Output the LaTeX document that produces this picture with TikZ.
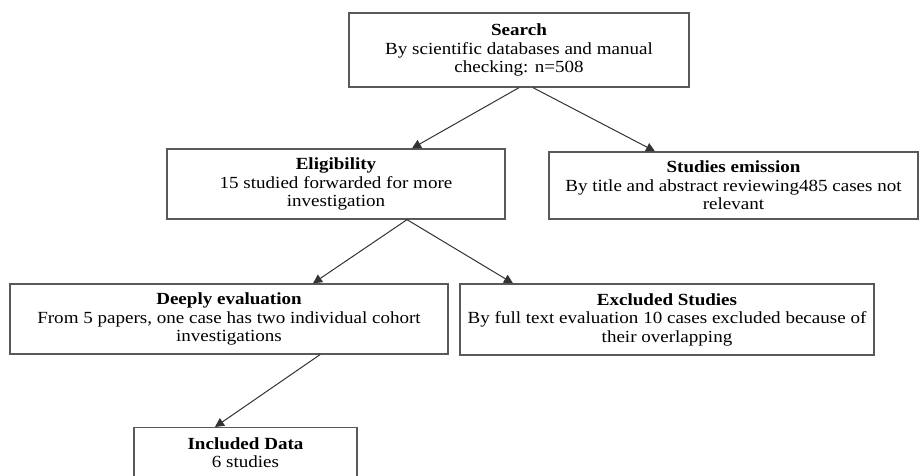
\documentclass[tikz,border=0pt]{standalone}
\usepackage{fontspec}
\setmainfont[FakeStretch=1.12]{Liberation Serif}
\usetikzlibrary{arrows.meta}

\begin{document}
\begin{tikzpicture}[x=1pt,y=-1pt,
    box/.style={shape=rectangle, draw=black!65, line width=1.3pt, fill=white, align=center, inner sep=0pt,
        font=\fontsize{17}{18.5}\selectfont},
    arr/.style={-{Triangle[length=9pt,width=9pt]}, draw=black!80, line width=1pt}]
    \useasboundingbox (0,0) rectangle (920,475);

    \node[box, minimum width=340pt, minimum height=74pt] (search) at (519,50)
        {\textbf{Search}\\By scientific databases and manual\\checking: n=508};
    \node[box, minimum width=338pt, minimum height=70pt] (elig) at (336,184)
        {\textbf{Eligibility}\\15 studied forwarded for more\\investigation};
    \node[box, minimum width=369pt, minimum height=67pt] (emis) at (733.5,185.5)
        {\textbf{Studies emission}\\By title and abstract reviewing485 cases not\\relevant};
    \node[box, minimum width=438pt, minimum height=70pt] (deep) at (229,319)
        {\textbf{Deeply evaluation}\\From 5 papers, one case has two individual cohort\\investigations};
    \node[box, minimum width=414pt, minimum height=71pt] (excl) at (667,319.5)
        {\textbf{Excluded Studies}\\By full text evaluation 10 cases excluded because of\\their overlapping};
    \node[box, minimum width=223pt, minimum height=98pt, anchor=north] (incl) at (245.5,427)
        {\textbf{Included Data}\\6 studies\\[30pt]};

    \draw[arr] (search.south) -- ([xshift=76pt]elig.north);
    \draw[arr] ([xshift=14pt]search.south) -- ([xshift=-78.5pt]emis.north);
    \draw[arr] ([xshift=71pt]elig.south) -- ([xshift=84pt]deep.north);
    \draw[arr] ([xshift=71pt]elig.south) -- ([xshift=-154pt]excl.north);
    \draw[arr] ([xshift=91pt]deep.south) -- ([xshift=-30.5pt]incl.north);

\end{tikzpicture}
\end{document}
